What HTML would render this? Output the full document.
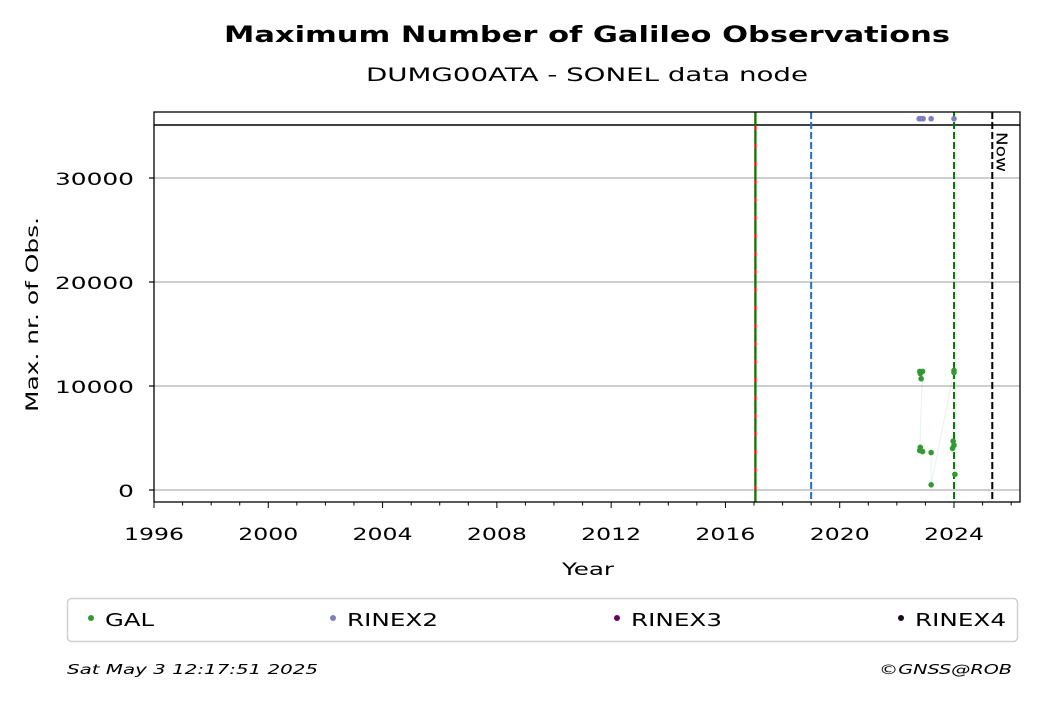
<!DOCTYPE html>
<html><head><meta charset="utf-8"><style>
body{margin:0;background:#fff;font-family:"DejaVu Sans","Liberation Sans",sans-serif;}
svg text{font-family:"DejaVu Sans","Liberation Sans",sans-serif;}
</style></head><body>
<svg id="c" width="1040" height="699" xmlns="http://www.w3.org/2000/svg">
<rect width="1040" height="699" fill="#fff"/>
<text x="224" y="42" font-size="22" font-weight="bold" textLength="726" lengthAdjust="spacingAndGlyphs">Maximum Number of Galileo Observations</text>
<text x="366" y="81" font-size="19" textLength="442" lengthAdjust="spacingAndGlyphs">DUMG00ATA - SONEL data node</text>
<text x="562" y="575" font-size="17" textLength="52" lengthAdjust="spacingAndGlyphs">Year</text>
<text transform="translate(38,412) rotate(-90)" font-size="17" textLength="195" lengthAdjust="spacingAndGlyphs">Max. nr. of Obs.</text>
<g id="grid"></g><g id="vlines"></g><g id="series"></g><g id="axes"></g>
<rect x="67.5" y="598.5" width="950" height="43" rx="4" fill="#fff" stroke="#d0d0d0" stroke-width="1.5"/>
<g><circle cx="91" cy="618" r="3" fill="#339933"/><text x="105" y="626" font-size="18" textLength="49" lengthAdjust="spacingAndGlyphs">GAL</text></g>
<g><circle cx="333" cy="618" r="3" fill="#7f7fbf"/><text x="347" y="626" font-size="18" textLength="91" lengthAdjust="spacingAndGlyphs">RINEX2</text></g>
<g><circle cx="617" cy="618" r="3" fill="#660066"/><text x="631" y="626" font-size="18" textLength="91" lengthAdjust="spacingAndGlyphs">RINEX3</text></g>
<g><circle cx="901" cy="618" r="3" fill="#1a0a1a"/><text x="915" y="626" font-size="18" textLength="91" lengthAdjust="spacingAndGlyphs">RINEX4</text></g>
<text x="67" y="674" font-size="13" font-style="italic" textLength="251" lengthAdjust="spacingAndGlyphs">Sat May  3 12:17:51 2025</text>
<text x="879" y="674" font-size="13" font-style="italic" textLength="133" lengthAdjust="spacingAndGlyphs">©GNSS@ROB</text>
</svg>
<script>
const xTicks=[1996,2000,2004,2008,2012,2016,2020,2024];
const yTicks=[0,10000,20000,30000];
const galYears=[2022.8,2022.82,2022.85,2022.9,2022.8,2022.82,2022.9,2023.2,2023.2,2024.0,2024.0,2023.97,2024.0,2023.95,2024.03];
const galValues=[11400,11200,10700,11400,3800,4100,3700,3600,500,11500,11300,4700,4300,4000,1500];
const rinex2Years=[2022.78,2022.85,2022.92,2023.2,2024.0];
const rinex2Values=[35700,35700,35700,35700,35700];
const eventYears=[2017.05,2019.0,2024.0,2025.34];
const NS="http://www.w3.org/2000/svg";
const L=154,R=1020,T=112,B=502;
const X=y=>L+(y-1996)*(800/28);
const Y=v=>490-v*0.0104;
function mk(p,tag,at){const e=document.createElementNS(NS,tag);for(const k in at)e.setAttribute(k,at[k]);p.appendChild(e);return e;}
const g=document.getElementById('grid'),vl=document.getElementById('vlines'),s=document.getElementById('series'),a=document.getElementById('axes');
yTicks.forEach(v=>{
 const ln=mk(g,'line',{x1:L,x2:R,y1:Y(v),y2:Y(v),stroke:'#b0b0b0','stroke-width':1.2});
 
 
 mk(a,'line',{x1:L-5,x2:L,y1:Y(v),y2:Y(v),stroke:'#000','stroke-width':1.2});
 const len=String(v).length*15.8;
 const t=mk(a,'text',{x:L-20-len,y:Y(v)+7,'font-size':17,textLength:len,lengthAdjust:'spacingAndGlyphs'});t.textContent=v;
 
 
});
mk(g,'line',{x1:L,x2:R,y1:Y(35100),y2:Y(35100),stroke:'#000','stroke-width':1.5});
const cols=['red','#1f6fd0','green','#000'];
eventYears.forEach((yr,i)=>{
 if(i==0){mk(vl,'line',{x1:X(yr),x2:X(yr),y1:T,y2:B,stroke:'red','stroke-width':2.2});
  mk(vl,'line',{x1:X(yr),x2:X(yr),y1:T,y2:B,stroke:'green','stroke-width':2.2,'stroke-dasharray':'14 4'});}
 else{const ln=mk(vl,'line',{x1:X(yr),x2:X(yr),y1:T,y2:B,stroke:cols[i],'stroke-width':2,'stroke-dasharray':'7 3'});
  
  }
});
const nt=mk(vl,'text',{transform:`translate(${X(eventYears[3])+4},132) rotate(90)`,'font-size':15,textLength:40,lengthAdjust:'spacingAndGlyphs'});nt.textContent='Now';


mk(s,'polyline',{points:galYears.map((y,i)=>X(y)+','+Y(galValues[i])).join(' '),fill:'none',stroke:'#339933','stroke-opacity':0.12,'stroke-width':1});
galYears.forEach((y,i)=>{const c=mk(s,'circle',{cx:X(y),cy:Y(galValues[i]),r:2.8,fill:'#339933'});
 
 });
rinex2Years.forEach((y,i)=>{const c=mk(s,'circle',{cx:X(y),cy:Y(rinex2Values[i]),r:2.8,fill:'#7f7fbf'});
 
 });
mk(a,'rect',{x:L,y:T,width:R-L,height:B-T,fill:'none',stroke:'#000','stroke-width':1.3});
for(let yr=1996;yr<=2026;yr++){const maj=xTicks.includes(yr);
 mk(a,'line',{x1:X(yr),x2:X(yr),y1:B,y2:B+(maj?6:3.5),stroke:'#000','stroke-width':1});}
xTicks.forEach(yr=>{const t=mk(a,'text',{x:X(yr)-30,y:B+38,'font-size':17,textLength:60,lengthAdjust:'spacingAndGlyphs'});t.textContent=yr;
 
 });
</script>
</body></html>
